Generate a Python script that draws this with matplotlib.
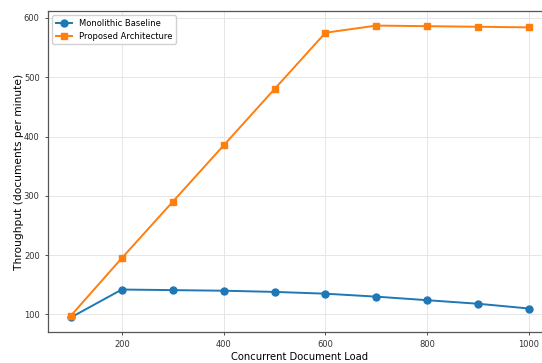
import matplotlib
matplotlib.use("Agg")
import matplotlib.pyplot as plt

loads = [100, 200, 300, 400, 500, 600, 700, 800, 900, 1000]
baseline = [95, 142, 141, 140, 138, 135, 130, 124, 118, 110]
proposed = [98, 195, 290, 385, 480, 575, 587, 586, 585, 584]

fig = plt.figure(figsize=(5.42, 3.63), dpi=100)
ax = fig.add_axes([48 / 542, 31 / 363, 504 / 542, 321 / 363])

ax.plot(loads, baseline, color='#1f77b4', marker='o', markersize=5, linewidth=1.4,
        label='Monolithic Baseline')
ax.plot(loads, proposed, color='#ff7f0e', marker='s', markersize=5, linewidth=1.4,
        label='Proposed Architecture')

ax.set_xlabel('Concurrent Document Load', fontsize=7.2, labelpad=2)
ax.set_ylabel('Throughput (documents per minute)', fontsize=7.7, labelpad=-0.5)
ax.set_xticks([200, 400, 600, 800, 1000])
ax.set_yticks([100, 200, 300, 400, 500, 600])
ax.tick_params(labelsize=6, length=2.5, width=0.6, colors='#333333')
for lab in ax.get_xticklabels() + ax.get_yticklabels():
    lab.set_fontfamily(['Liberation Sans Narrow', 'DejaVu Sans'])
ax.grid(True, color='#e6e6e6', linewidth=0.7)
for s in ax.spines.values():
    s.set_color('#555555')
    s.set_linewidth(0.9)

ax.legend(loc='upper left', fontsize=6, framealpha=0.9)

fig.savefig('out.png', dpi=100)
